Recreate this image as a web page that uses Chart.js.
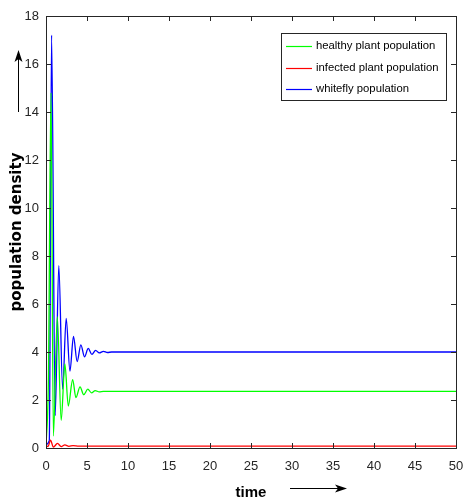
<!DOCTYPE html>
<html>
<head>
<meta charset="utf-8">
<script src="https://cdn.jsdelivr.net/npm/chart.js@4"></script>
<style>
  html, body { margin: 0; padding: 0; background: #fff; }
  #wrap { width: 463px; height: 502px; }
</style>
</head>
<body>
<div id="wrap"><canvas id="popChart" width="463" height="502"></canvas></div>
<script>
// ── Data ──────────────────────────────────────────────────────────────────
const xTicks = [0, 5, 10, 15, 20, 25, 30, 35, 40, 45, 50];
const yTicks = [0, 2, 4, 6, 8, 10, 12, 14, 16, 18];

const healthyT = [0, 0.3, 0.61, 0.9, 1.38, 1.85, 2.3, 2.72, 3.25, 3.65, 4.15, 4.6, 5.1, 5.55, 6.0, 6.5, 7.0, 50];
const healthyV = [0.05, 3.0, 14.8, 0.5, 5.47, 1.15, 3.5, 1.75, 2.85, 2.1, 2.55, 2.22, 2.45, 2.3, 2.39, 2.34, 2.36, 2.36];

const infectedT = [0, 0.25, 0.55, 0.9, 1.4, 1.85, 2.3, 2.8, 3.3, 4.0, 50];
const infectedV = [0.1, 0.06, 0.33, 0.04, 0.19, 0.06, 0.13, 0.07, 0.1, 0.08, 0.08];

const whiteflyT = [0, 0.4, 0.68, 1.12, 1.56, 2.03, 2.46, 2.92, 3.35, 3.8, 4.25, 4.7, 5.15, 5.6, 6.05, 6.5, 7.0, 7.5, 8.0, 50];
const whiteflyV = [0.15, 0.3, 17.2, 1.35, 7.6, 2.45, 5.4, 3.2, 4.65, 3.6, 4.3, 3.8, 4.15, 3.9, 4.07, 3.96, 4.03, 3.98, 4.0, 4.0];

const seriesLabels = ['healthy plant population', 'infected plant population', 'whitefly population'];
const seriesColors = ['#00ff00', '#ff0000', '#0000ff'];

const SANS = '"Liberation Sans", Arial, sans-serif';

function pts(ts, vs) {
  return ts.map((t, i) => ({ x: t, y: vs[i] }));
}

// ── Frame, inward ticks, arrows and legend ────────────────────────────────
const matlabFrame = {
  id: 'matlabFrame',
  afterDatasetsDraw(chart) {
    const { ctx, chartArea: a, scales } = chart;
    ctx.save();
    ctx.strokeStyle = '#262626';
    ctx.lineWidth = 1;
    // ticks pointing inside, on all four sides
    ctx.beginPath();
    xTicks.forEach((v) => {
      const px = Math.round(scales.x.getPixelForValue(v)) + 0.5;
      ctx.moveTo(px, a.bottom); ctx.lineTo(px, a.bottom - 5);
      ctx.moveTo(px, a.top); ctx.lineTo(px, a.top + 5);
    });
    yTicks.forEach((v) => {
      const py = Math.round(scales.y.getPixelForValue(v)) + 0.5;
      ctx.moveTo(a.left, py); ctx.lineTo(a.left + 5, py);
      ctx.moveTo(a.right, py); ctx.lineTo(a.right - 5, py);
    });
    ctx.stroke();
    ctx.strokeRect(Math.round(a.left) + 0.5, Math.round(a.top) + 0.5,
      Math.round(a.right - a.left), Math.round(a.bottom - a.top));

    // arrows next to the axis titles
    ctx.fillStyle = '#000';
    ctx.strokeStyle = '#000';
    ctx.beginPath();
    ctx.moveTo(18.5, 112); ctx.lineTo(18.5, 58);
    ctx.moveTo(290, 488.5); ctx.lineTo(340, 488.5);
    ctx.stroke();
    ctx.beginPath();
    ctx.moveTo(18.5, 50); ctx.lineTo(14.5, 62); ctx.lineTo(18.5, 59); ctx.lineTo(22.5, 62);
    ctx.closePath(); ctx.fill();
    ctx.beginPath();
    ctx.moveTo(347, 488.5); ctx.lineTo(335, 484.5); ctx.lineTo(338, 488.5); ctx.lineTo(335, 492.5);
    ctx.closePath(); ctx.fill();

    // legend box
    const lx = 281, ly = 33, lw = 165, lh = 67;
    ctx.fillStyle = '#fff';
    ctx.fillRect(lx, ly, lw, lh);
    ctx.strokeStyle = '#262626';
    ctx.strokeRect(lx + 0.5, ly + 0.5, lw, lh);
    ctx.font = '11.3px ' + SANS;
    ctx.textBaseline = 'middle';
    ctx.lineWidth = 1.2;
    chart.data.datasets.forEach((ds, i) => {
      const y = 46 + i * 21.5;
      ctx.strokeStyle = ds.borderColor;
      ctx.beginPath();
      ctx.moveTo(286, Math.round(y) + 0.5); ctx.lineTo(312, Math.round(y) + 0.5);
      ctx.stroke();
      ctx.fillStyle = '#000';
      ctx.fillText(ds.label, 316, y);
    });
    ctx.restore();
  },
};

// ── Chart setup ───────────────────────────────────────────────────────────
const ctx = document.getElementById('popChart').getContext('2d');
const chart = new Chart(ctx, {
  type: 'line',
  data: {
    datasets: [
      { label: seriesLabels[0], data: pts(healthyT, healthyV), borderColor: seriesColors[0] },
      { label: seriesLabels[1], data: pts(infectedT, infectedV), borderColor: seriesColors[1] },
      { label: seriesLabels[2], data: pts(whiteflyT, whiteflyV), borderColor: seriesColors[2] },
    ],
  },
  options: {
    responsive: false,
    animation: false,
    layout: { padding: { top: 16, right: 7, left: 0, bottom: 0 } },
    elements: {
      point: { radius: 0 },
      line: { borderWidth: 1.3, cubicInterpolationMode: 'monotone', fill: false },
    },
    plugins: { legend: { display: false }, tooltip: { enabled: false } },
    scales: {
      x: {
        type: 'linear',
        min: 0,
        max: 50,
        afterFit: (s) => { s.height = 54; s.paddingLeft = 0; s.paddingRight = 0; },
        afterBuildTicks: (s) => { s.ticks = xTicks.map((v) => ({ value: v })); },
        grid: { display: false, drawTicks: false },
        border: { display: false },
        ticks: { color: '#262626', font: { family: SANS, size: 13 }, padding: 11, maxRotation: 0 },
        title: {
          display: true,
          text: 'time',
          color: '#000',
          font: { family: SANS, size: 15, weight: 'bold' },
          padding: { top: 0, bottom: 0 },
        },
      },
      y: {
        min: 0,
        max: 18,
        afterFit: (s) => { s.width = 46; },
        afterBuildTicks: (s) => { s.ticks = yTicks.map((v) => ({ value: v })); },
        grid: { display: false, drawTicks: false },
        border: { display: false },
        ticks: { color: '#262626', font: { family: SANS, size: 13 }, padding: 7 },
        title: {
          display: true,
          text: 'population density',
          color: '#000',
          font: { family: '"DejaVu Sans", sans-serif', size: 15, weight: 'bold' },
          padding: { top: 8, bottom: 0 },
        },
      },
    },
  },
  plugins: [matlabFrame],
});
</script>
</body>
</html>
